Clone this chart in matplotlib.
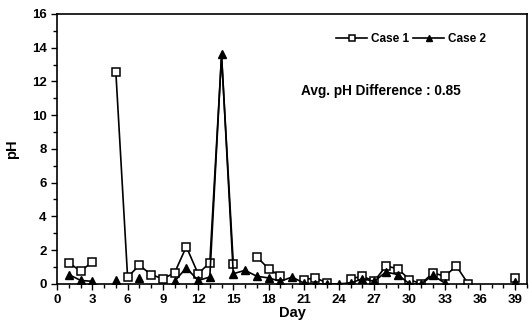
import matplotlib
matplotlib.use("Agg")
import matplotlib.pyplot as plt
import numpy as np

nan = np.nan

days = list(range(1, 40))

# pH difference per day (NaN = no measurement)
case1 = [1.25, 0.75, 1.3, nan, 12.55, 0.4, 1.1, 0.55, 0.3, 0.65,
         2.2, 0.6, 1.25, 13.5, 1.2, nan, 1.6, 0.9, 0.45, nan,
         0.25, 0.35, 0.05, nan, 0.3, 0.45, 0.15, 1.05, 0.9, 0.25,
         0.0, 0.65, 0.45, 1.05, 0.0, nan, nan, nan, 0.35]
case2 = [0.55, 0.2, 0.15, nan, 0.25, nan, 0.35, nan, nan, 0.15,
         0.95, 0.2, 0.4, 13.6, 0.6, 0.8, 0.45, 0.35, 0.15, 0.4,
         0.05, 0.0, 0.0, 0.0, 0.05, 0.3, 0.15, 0.7, 0.55, 0.0,
         0.0, 0.5, 0.05, nan, nan, nan, nan, nan, 0.1]

x_ticks = list(range(0, 40, 3))
y_ticks = list(range(0, 17, 2))

_FONT = ["Liberation Sans", "DejaVu Sans"]

plt.rcParams["font.family"] = _FONT
plt.rcParams["font.weight"] = "bold"

fig = plt.figure(figsize=(5.29, 3.24), dpi=100)
ax = fig.add_axes([0.108, 0.124, 0.888, 0.833])

# the case 1 marker at the day-14 peak is covered in the original
c1_marks = [i for i in range(len(days)) if days[i] != 14]

ax.plot(days, case1, color="black", lw=1.2, marker="s", ms=5.5,
        mfc="white", mec="black", mew=1.1, markevery=c1_marks, label="Case 1")
ax.plot(days, case2, color="black", lw=1.2, marker="^", ms=5.5,
        mfc="black", mec="black", label="Case 2")

ax.set_xlim(0, 40)
ax.set_ylim(0, 16)
ax.set_xticks(x_ticks)
ax.set_xticks(range(0, 41), minor=True)
ax.set_yticks(y_ticks)
ax.set_yticks(range(0, 17), minor=True)
ax.tick_params(which="both", direction="out", width=1.0, labelsize=9.5)
ax.tick_params(which="major", length=4)
ax.tick_params(which="minor", length=3)
for lab in ax.get_xticklabels() + ax.get_yticklabels():
    lab.set_fontweight("bold")

for sp in ax.spines.values():
    sp.set_linewidth(1.2)

ax.set_xlabel("Day", fontsize=10.5, fontweight="bold", labelpad=0)
ax.set_ylabel("pH", fontsize=10.5, fontweight="bold", labelpad=9)

ax.legend(loc="upper right", bbox_to_anchor=(0.935, 0.97), ncol=2,
          frameon=False, fontsize=8.5, handlelength=2.6, columnspacing=0.4,
          handletextpad=0.3, markerscale=0.85)

ax.text(0.52, 0.70, "Avg. pH Difference : 0.85", transform=ax.transAxes,
        fontsize=9.8, fontweight="bold")

fig.savefig("out.png", dpi=100)
